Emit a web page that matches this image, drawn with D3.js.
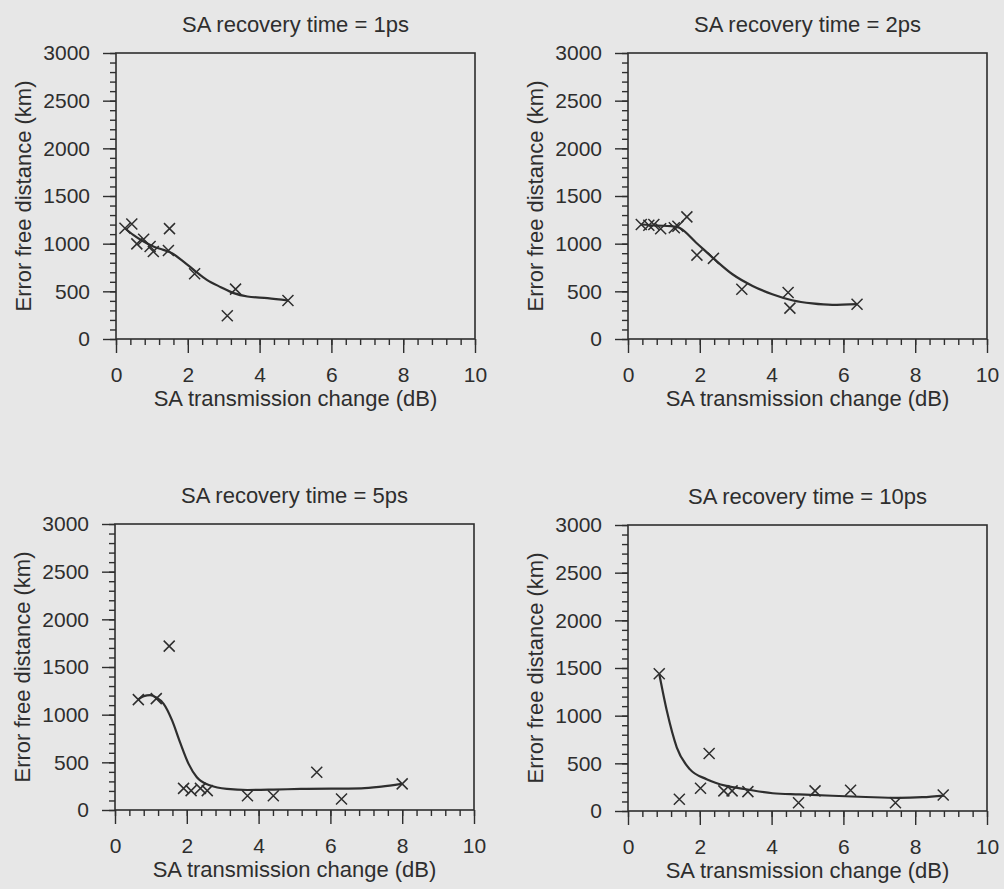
<!DOCTYPE html>
<html>
<head>
<meta charset="utf-8">
<script src="https://cdn.jsdelivr.net/npm/d3@7"></script>
<style>
  html, body { margin: 0; padding: 0; background: #e7e7e7; }
  svg { display: block; }
  text { font-family: "Liberation Sans", Arial, Helvetica, sans-serif; fill: #2e2e2e; }
</style>
</head>
<body>
<svg id="chart" width="1004" height="889"></svg>
<script>
// titles and ticks
var titles = ["SA recovery time = 1ps", "SA recovery time = 2ps",
              "SA recovery time = 5ps", "SA recovery time = 10ps"];
var xTicks = [0, 2, 4, 6, 8, 10];
var yTicks = [0, 500, 1000, 1500, 2000, 2500, 3000];
var xLabel = "SA transmission change (dB)";
var yLabel = "Error free distance (km)";

// measured points (x marks)
var pts1x = [0.25, 0.44, 0.58, 0.77, 0.95, 1.04, 1.46, 1.49, 2.19, 3.10, 3.33, 4.79];
var pts1y = [1162, 1207, 998, 1047, 970, 917, 928, 1158, 684, 244, 523, 404];
var pts2x = [0.37, 0.58, 0.72, 0.91, 1.29, 1.39, 1.64, 1.92, 2.38, 3.17, 4.46, 4.51, 6.38];
var pts2y = [1201, 1194, 1201, 1156, 1166, 1183, 1281, 880, 846, 522, 488, 324, 365];
var pts3x = [0.65, 1.15, 1.51, 1.91, 2.12, 2.38, 2.57, 3.69, 4.41, 5.62, 6.31, 8.0];
var pts3y = [1158, 1168, 1719, 227, 203, 227, 203, 150, 150, 396, 116, 274];
var pts4x = [0.87, 1.43, 2.02, 2.26, 2.67, 2.90, 3.34, 4.75, 5.21, 6.20, 7.45, 8.78];
var pts4y = [1439, 123, 239, 603, 211, 211, 203, 87, 211, 218, 87, 168];

// fitted curves
var fit1x = [0.25, 0.48, 0.77, 1.04, 1.32, 1.56, 1.88, 2.19, 2.53, 2.92, 3.28, 3.66, 4.22, 4.79];
var fit1y = [1162, 1092, 1022, 970, 935, 900, 812, 718, 621, 544, 481, 446, 429, 404];
var fit2x = [0.37, 0.8, 1.2, 1.43, 1.9, 2.38, 2.91, 3.47, 4.02, 4.57, 5.13, 5.69, 6.38];
var fit2y = [1201, 1190, 1185, 1166, 1010, 846, 679, 557, 470, 407, 373, 358, 365];
var fit3x = [0.65, 0.8, 0.98, 1.15, 1.35, 1.59, 1.81, 2.05, 2.28, 2.66, 3.12, 3.69, 4.41, 5.18, 6.86, 7.42, 7.98];
var fit3y = [1160, 1195, 1205, 1180, 1116, 940, 712, 484, 343, 256, 221, 210, 214, 221, 227, 245, 274];
var fit4x = [0.87, 1.08, 1.36, 1.72, 2.19, 2.74, 3.29, 4.03, 4.77, 5.69, 6.62, 7.54, 8.2, 8.8];
var fit4y = [1439, 1053, 666, 439, 334, 263, 228, 186, 174, 160, 147, 138, 145, 162];

var series = [
  {px: pts1x, py: pts1y, fx: fit1x, fy: fit1y},
  {px: pts2x, py: pts2y, fx: fit2x, fy: fit2y},
  {px: pts3x, py: pts3y, fx: fit3x, fy: fit3y},
  {px: pts4x, py: pts4y, fx: fit4x, fy: fit4y}
];

// panel layout
var lefts = [116, 628, 115, 628],
    tops = [53, 53, 524, 525],
    w = 359,
    h = 286,
    ink = "#2e2e2e";

var svg = d3.select("#chart");

series.forEach(function(s, i) {
  var g = svg.append("g")
    .attr("transform", "translate(" + lefts[i] + "," + tops[i] + ")");

  var x = d3.scaleLinear().domain([0, 10]).range([0, w]);
  var y = d3.scaleLinear().domain([0, 3000]).range([h, 0]);

  // minor ticks
  g.append("g")
    .attr("class", "minor")
    .call(d3.axisLeft(y).tickValues(d3.range(0, 3001, 100)).tickSize(6).tickFormat(""));
  g.append("g")
    .attr("class", "minor")
    .attr("transform", "translate(0," + h + ")")
    .call(d3.axisBottom(x).tickValues(d3.range(0, 26).map(function(k) { return k * 0.4; }))
      .tickSize(6).tickFormat(""));

  // major ticks with labels
  g.append("g")
    .attr("class", "major")
    .call(d3.axisLeft(y).tickValues(yTicks).tickSize(13).tickPadding(13).tickFormat(d3.format("d")));
  g.append("g")
    .attr("class", "major")
    .attr("transform", "translate(0," + h + ")")
    .call(d3.axisBottom(x).tickValues(xTicks).tickSize(14).tickPadding(14).tickFormat(d3.format("d")));

  g.selectAll(".domain").remove();
  g.selectAll(".tick line").attr("stroke", ink).attr("stroke-width", 1.4);
  g.selectAll(".major text")
    .attr("fill", ink)
    .style("font-size", "21px")
    .style("font-family", "'Liberation Sans', Arial, sans-serif");

  // frame
  g.append("rect")
    .attr("width", w)
    .attr("height", h)
    .attr("fill", "none")
    .attr("stroke", ink)
    .attr("stroke-width", 1.6);

  // fitted curve
  var line = d3.line()
    .x(function(d) { return x(d[0]); })
    .y(function(d) { return y(d[1]); })
    .curve(d3.curveMonotoneX);
  g.append("path")
    .datum(d3.zip(s.fx, s.fy))
    .attr("d", line)
    .attr("fill", "none")
    .attr("stroke", ink)
    .attr("stroke-width", 2.2);

  // x markers
  var r = 5.5;
  g.selectAll(".mark")
    .data(d3.zip(s.px, s.py))
    .enter().append("path")
    .attr("class", "mark")
    .attr("d", function(d) {
      var cx = x(d[0]), cy = y(d[1]);
      return "M" + (cx - r) + "," + (cy - r) + "L" + (cx + r) + "," + (cy + r) +
             "M" + (cx - r) + "," + (cy + r) + "L" + (cx + r) + "," + (cy - r);
    })
    .attr("stroke", ink)
    .attr("stroke-width", 1.5)
    .attr("fill", "none");

  // title and axis labels
  g.append("text")
    .attr("x", w / 2)
    .attr("y", -21)
    .attr("text-anchor", "middle")
    .style("font-size", "22px")
    .text(titles[i]);

  g.append("text")
    .attr("x", w / 2)
    .attr("y", h + 67)
    .attr("text-anchor", "middle")
    .style("font-size", "22px")
    .text(xLabel);

  g.append("text")
    .attr("transform", "translate(-85," + (h / 2) + ") rotate(-90)")
    .attr("text-anchor", "middle")
    .style("font-size", "22px")
    .text(yLabel);
});
</script>
</body>
</html>
